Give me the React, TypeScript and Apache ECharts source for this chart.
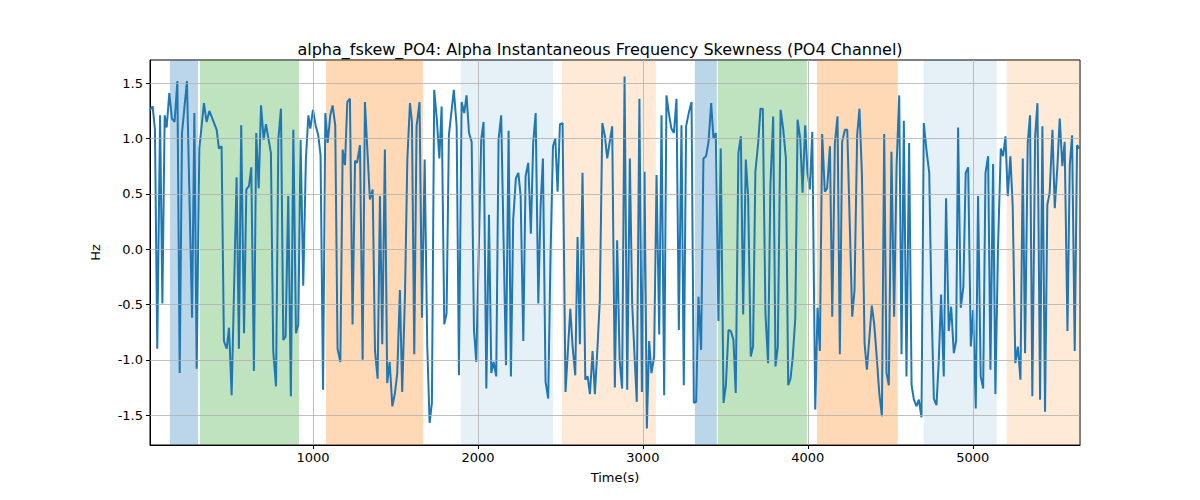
import React, { useEffect, useRef } from 'react'
import * as echarts from 'echarts'

const times = [
  12, 28, 42, 56, 73, 87, 101, 113, 129, 145, 161, 178, 192, 206, 236, 267, 281, 295, 311, 339, 355, 372, 416, 430, 446, 460, 477, 491, 507, 537, 551, 565, 582, 596, 612, 626, 642, 656, 671, 685, 701, 715, 745, 759, 776, 790, 806, 820, 834, 850, 866, 881, 897, 911, 925, 941, 957, 972,
  984, 1000, 1016, 1032, 1046, 1061, 1075, 1089, 1105, 1119, 1135, 1149, 1166, 1180, 1194, 1208, 1224, 1240, 1255, 1267, 1285, 1301, 1315, 1345, 1362, 1376, 1392, 1406, 1420, 1436, 1450, 1465, 1481, 1497, 1511, 1527, 1541, 1558, 1572, 1588, 1600, 1614, 1628, 1646, 1661, 1677, 1693, 1707, 1721, 1735, 1751, 1766, 1780, 1796, 1810, 1824, 1854, 1871, 1885, 1901, 1917,
  1931, 1946, 1962, 1976, 1990, 2020, 2034, 2051, 2067, 2081, 2095, 2111, 2125, 2141, 2170, 2186, 2200, 2214, 2230, 2245, 2259, 2275, 2289, 2305, 2321, 2335, 2350, 2366, 2380, 2394, 2410, 2426, 2440, 2455, 2469, 2483, 2497, 2513, 2531, 2560, 2574, 2590, 2604, 2618, 2634, 2651, 2665, 2679, 2695, 2709, 2723, 2739, 2754, 2770, 2784, 2798, 2814, 2830, 2844, 2859,
  2874, 2889, 2905, 2921, 2935, 2949, 2963, 2979, 2994, 3010, 3024, 3038, 3052, 3068, 3083, 3099, 3113, 3129, 3143, 3157, 3173, 3188, 3204, 3218, 3234, 3248, 3262, 3278, 3295, 3309, 3323, 3337, 3353, 3367, 3383, 3398, 3414, 3428, 3442, 3458, 3472, 3489, 3503, 3519, 3533, 3549, 3563, 3579, 3594, 3608, 3624, 3638, 3654, 3668, 3682, 3699, 3713, 3727, 3743, 3759, 3773, 3790,
  3804, 3818, 3835, 3851, 3867, 3881, 3895, 3909, 3924, 3938, 3954, 3968, 3984, 3998, 4012, 4027, 4045, 4059, 4073, 4087, 4103, 4117, 4134, 4148, 4164, 4180, 4194, 4208, 4225, 4239, 4269, 4283, 4299, 4313, 4328, 4344, 4358, 4388, 4402, 4416, 4433, 4449, 4463, 4477, 4491, 4507, 4523, 4538, 4554, 4568, 4582, 4598, 4614, 4629, 4643, 4659, 4673, 4689, 4703, 4719, 4736,
  4749, 4764, 4780, 4794, 4808, 4824, 4838, 4854, 4869, 4885, 4899, 4911, 4927, 4943, 4957, 4972, 4988, 5002, 5018, 5032, 5048, 5063, 5077, 5093, 5107, 5123, 5137, 5153, 5170, 5184, 5198, 5212, 5228, 5242, 5258, 5273, 5289, 5303, 5317, 5333, 5347, 5361, 5378, 5392, 5408, 5422, 5438, 5452, 5466, 5483, 5497, 5513, 5527, 5543, 5557, 5574, 5588, 5602, 5618, 5632, 5646
]

const values = [
  1.26, 1.29, 1.08, -0.9, 1.21, -0.49, 1.21, 1.1, 1.41, 1.18, 1.15, 1.52, -1.12, 1.05, 1.52, -0.62, 1.23, -1.08, 0.91, 1.32, 1.15, 1.25, 1.08, 0.91, 0.93, -0.83, -0.9, -0.71, -1.32, 0.65, -0.9, 1.12, -0.76, 0.54, 0.57, 0.74, -1.1, 1.05, 0.55, 1.3, 0.99, 1.13, 0.87, -0.92, -1.24, 0.99, 1.27, -0.82, -0.79, 0.48, -1.33, 1.08, -0.76, -0.68, 0.99, -0.33, 0.81, 1.21,
  1.09, 1.26, 1.12, 1.03, 0.85, -1.27, 1.23, 0.96, 1.21, 1.3, 1.12, -0.9, -1.02, 0.9, 0.76, 1.33, 1.36, -0.68, 0.8, 0.78, 0.94, -1.0, 1.33, 0.45, 0.54, -0.92, -1.17, 0.48, -0.86, 0.9, -1.21, -1.02, -1.42, -1.3, -1.12, -0.37, -1.29, -0.4, 0.81, 1.32, 1.15, -0.95, 1.11, 1.33, -0.62, 0.81, -0.88, -1.57, -1.39, 1.44, 1.17, 0.82, 1.29, -0.68, -0.58, 1.03, 1.44, 1.11, -1.14, 1.33, 1.23,
  1.39, 1.05, 0.97, -0.73, -1.02, 0.99, 1.15, -1.26, 0.31, -1.12, -1.02, -1.15, 0.99, 1.21, -1.05, 1.07, -1.15, 0.27, 0.64, 0.69, 0.48, -0.83, 0.66, 0.78, 0.14, 0.96, 1.23, -0.49, 0.39, 0.82, -1.2, -1.35, -0.07, 0.93, 1.0, 0.52, 1.13, 1.14, -1.29, -0.54, -0.88, -1.14, 0.11, -0.86, 0.69, -1.18, -1.15, -1.31, -0.92, -1.31, -0.94, -0.46, 1.14, 1.02, 0.82, 0.96, 1.11, -1.25, 0.08, -1.0,
  -1.26, 1.56, -1.27, 0.82, -0.49, -0.95, -1.38, 1.36, -1.29, 0.7, -1.62, -0.83, -1.12, -0.97, 0.67, -0.77, 1.21, -1.32, 1.39, 1.23, 1.09, 1.05, 1.36, -0.73, 1.12, -1.23, 1.11, 1.23, 1.33, -1.39, -1.38, -0.43, -0.91, 0.82, 0.84, 0.97, 1.32, 1.0, 1.05, -0.65, 0.91, -1.39, -1.23, -0.73, -0.74, -0.82, -1.3, 0.87, 1.02, -0.59, 0.81, 0.48, -0.97, -0.88, 0.7, 0.96, 1.27, 1.27, -0.58, -1.03, 0.57, 1.2,
  -1.06, -0.88, 1.26, 1.08, 0.82, -1.23, -1.17, -0.97, -0.62, 1.17, 1.0, 0.51, 1.12, 0.69, 0.54, 1.06, -1.45, -0.53, -0.92, 1.04, 0.52, 0.55, 0.93, -0.61, 0.96, 1.2, -0.95, 0.97, 1.08, 1.08, -0.61, -0.37, 1.03, 1.27, 0.67, -0.85, -1.09, -0.51, -0.67, -0.94, -1.3, -1.51, 1.04, -1.12, -1.23, 0.88, -0.61, 0.75, 1.39, -0.95, 1.16, -1.15, 0.96, -1.23, -1.36, -1.42, -1.36, -1.52, 1.14, 0.9, 0.69,
  -0.46, -1.35, -1.41, -1.0, -0.41, -1.15, 0.46, -0.74, -0.52, -0.94, -0.83, 1.1, -0.53, -0.34, 0.69, 0.74, -0.88, -0.55, -1.44, 0.48, -1.15, -1.26, 0.69, 0.84, -1.09, 0.77, -1.31, 0.02, 0.91, 0.84, 1.02, 0.48, 0.84, 0.39, -1.03, -0.88, -1.18, 0.82, -0.94, 0.96, 1.21, -1.33, 1.02, 1.32, -1.36, 1.11, -1.47, 0.4, 0.51, 1.08, 0.37, 0.75, 1.18, 0.75, 0.97, -0.74, 0.76, 1.03, -0.92, 0.94, 0.91
]

const bandStarts = [133, 315, 1079, 1897, 2509, 3315, 3455, 4055, 4703, 5206]
const bandEnds = [303, 915, 1667, 2455, 3079, 3448, 3994, 4545, 5145, 5650]
const bandColors = [
  'rgba(31,119,180,0.3)', 'rgba(44,160,44,0.3)', 'rgba(255,127,14,0.3)', 'rgba(31,119,180,0.11)', 'rgba(255,127,14,0.16)',
  'rgba(31,119,180,0.3)', 'rgba(44,160,44,0.3)', 'rgba(255,127,14,0.3)', 'rgba(31,119,180,0.11)', 'rgba(255,127,14,0.16)'
]
const xTicks = [1000, 2000, 3000, 4000, 5000]
const yTicks = [-1.5, -1.0, -0.5, 0.0, 0.5, 1.0, 1.5]

const App: React.FC = () => {
  const chartRef = useRef<HTMLDivElement>(null)

  useEffect(() => {
    if (!chartRef.current) return
    const chart = echarts.init(chartRef.current, undefined, { renderer: 'svg' })
    const font = 'DejaVu Sans'
    const gridStyle = { color: '#b0b0b0', width: 0.8, type: 'solid' as const }

    chart.setOption({
      animation: false,
      title: {
        text: 'alpha_fskew_PO4: Alpha Instantaneous Frequency Skewness (PO4 Channel)',
        left: 'center',
        top: 36,
        textStyle: { fontFamily: font, fontSize: 16, fontWeight: 'normal', color: '#000' }
      },
      grid: { left: 150, right: 120, top: 60, bottom: 55, show: true, borderColor: '#000', borderWidth: 1 },
      xAxis: {
        type: 'value',
        min: 12,
        max: 5650,
        name: 'Time(s)',
        nameLocation: 'middle',
        nameGap: 26,
        nameTextStyle: { fontFamily: font, fontSize: 13, color: '#000' },
        axisLine: { onZero: false, lineStyle: { color: '#000' } },
        axisTick: { customValues: xTicks, length: 4, lineStyle: { color: '#000' } },
        axisLabel: {
          customValues: xTicks,
          fontFamily: font,
          fontSize: 13,
          color: '#000',
          margin: 6,
          formatter: (v: number) => String(v)
        },
        splitLine: { show: false }
      },
      yAxis: {
        type: 'value',
        min: -1.77,
        max: 1.71,
        name: 'Hz',
        nameLocation: 'middle',
        nameGap: 48,
        nameTextStyle: { fontFamily: font, fontSize: 13, color: '#000' },
        axisLine: { show: true, onZero: false, lineStyle: { color: '#000' } },
        axisTick: { show: true, customValues: yTicks, length: 4, lineStyle: { color: '#000' } },
        axisLabel: {
          customValues: yTicks,
          fontFamily: font,
          fontSize: 13,
          color: '#000',
          margin: 7,
          formatter: (v: number) => v.toFixed(1)
        },
        splitLine: { show: false }
      },
      series: [
        {
          type: 'line',
          data: times.map((t, i) => [t, values[i]]),
          showSymbol: false,
          lineStyle: { color: '#1f77b4', width: 2 },
          z: 3,
          markArea: {
            silent: true,
            data: bandStarts.map((s, i) => [
              { xAxis: s, itemStyle: { color: bandColors[i] } },
              { xAxis: bandEnds[i] }
            ])
          },
          markLine: {
            silent: true,
            symbol: 'none',
            label: { show: false },
            lineStyle: gridStyle,
            data: [
              ...xTicks.map((x) => ({ xAxis: x })),
              ...yTicks.map((y) => ({ yAxis: y }))
            ]
          }
        }
      ]
    })

    return () => chart.dispose()
  }, [])

  return (
    <div
      ref={chartRef}
      style={{ position: 'absolute', left: 0, top: 0, width: '1200px', height: '500px', background: '#fff' }}
    />
  )
}

export default App
